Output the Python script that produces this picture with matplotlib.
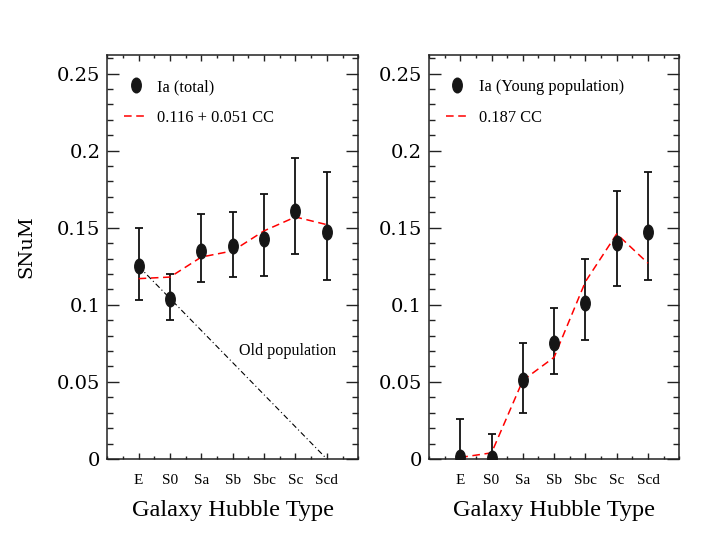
import matplotlib
matplotlib.use("Agg")
import matplotlib.pyplot as plt
from matplotlib.path import Path
from matplotlib.transforms import Affine2D
from matplotlib.lines import Line2D
from matplotlib.ticker import MultipleLocator, FuncFormatter

# --- data ---
types = ["E", "S0", "Sa", "Sb", "Sbc", "Sc", "Scd"]

# left panel: Ia (total)
total = [0.125, 0.104, 0.135, 0.138, 0.143, 0.161, 0.147]
total_err_lo = [0.022, 0.014, 0.020, 0.020, 0.024, 0.028, 0.031]
total_err_hi = [0.025, 0.016, 0.024, 0.022, 0.029, 0.034, 0.039]
total_fit = [0.117, 0.118, 0.131, 0.135, 0.148, 0.157, 0.152]
old_line_x = [0, 6]
old_line_y = [0.125, 0.0]

# right panel: Ia (young population)
young = [0.001, 0.0005, 0.051, 0.075, 0.101, 0.140, 0.147]
young_err_lo = [0.026, 0.016, 0.021, 0.020, 0.024, 0.028, 0.031]
young_err_hi = [0.025, 0.016, 0.024, 0.023, 0.029, 0.034, 0.039]
young_fit = [0.001, 0.004, 0.051, 0.066, 0.115, 0.146, 0.127]

serif_c = ["Liberation Serif", "DejaVu Serif"]
num_font = ["DejaVu Serif"]

# tall ellipse marker
ell = Path.unit_circle().transformed(Affine2D().scale(0.65, 1.0))

fig = plt.figure(figsize=(7.15, 5.40), dpi=100)
ax1 = fig.add_axes([0.150, 0.150, 0.351, 0.748])
ax2 = fig.add_axes([0.600, 0.150, 0.350, 0.748])

x = list(range(len(types)))


def style_axes(ax):
    ax.set_xlim(-1, 7)
    ax.set_ylim(0, 0.262)
    ax.xaxis.set_major_locator(MultipleLocator(1))
    ax.xaxis.set_minor_locator(MultipleLocator(0.5))
    ax.yaxis.set_major_locator(MultipleLocator(0.05))
    ax.yaxis.set_minor_locator(MultipleLocator(0.01))
    ax.set_xticks(x)
    ax.set_xticklabels(types, fontfamily=serif_c, fontsize=11)
    ax.yaxis.set_major_formatter(FuncFormatter(lambda v, p: ("%g" % round(v, 3))))
    for lab in ax.get_yticklabels():
        lab.set_fontfamily(num_font)
        lab.set_fontsize(14)
    ax.tick_params(axis="both", which="both", direction="in",
                   top=True, right=True, color="#222222", width=1.0)
    ax.tick_params(axis="y", which="major", length=8.5, pad=5, labelsize=14)
    ax.tick_params(axis="y", which="minor", length=4.3)
    ax.tick_params(axis="x", which="major", length=4.5, pad=10.5)
    ax.tick_params(axis="x", which="minor", length=2.5)
    for s in ax.spines.values():
        s.set_linewidth(1.1)
        s.set_color("#222222")
    ax.set_xlabel("Galaxy Hubble Type", fontfamily=serif_c, fontsize=17.5, labelpad=9.5)


def draw_panel(ax, vals, lo, hi, fit, label, fit_label):
    ax.errorbar(x, vals, yerr=[lo, hi], fmt="none", ecolor="#111111",
                elinewidth=1.3, capsize=2.7, capthick=1.3, zorder=2)
    ax.plot(x, fit, color="red", lw=1.1, linestyle=(0, (5, 3)), zorder=3)
    ax.plot(x, vals, linestyle="none", marker=ell, markersize=10.5,
            color="#161616", markeredgecolor="#161616", zorder=4)
    handles = [
        Line2D([], [], linestyle="none", marker=ell, markersize=10.5,
               color="#161616"),
        Line2D([], [], color="red", lw=1.1, linestyle=(0, (5, 3))),
    ]
    ax.legend(handles, [label, fit_label], loc="upper left",
              bbox_to_anchor=(0.068, 0.941), frameon=False, borderpad=0,
              borderaxespad=0, handlelength=1.4, handletextpad=0.6,
              labelspacing=0.93, prop={"family": serif_c, "size": 11.8})


draw_panel(ax1, total, total_err_lo, total_err_hi, total_fit,
           "Ia (total)", "0.116 + 0.051 CC")
ax1.plot(old_line_x, old_line_y, color="black", lw=0.8,
         linestyle=(0, (5, 2.5, 1, 2.5)), zorder=1)
ax1.text(3.2, 0.0702, "Old population", fontfamily=serif_c, fontsize=11.6,
         ha="left", va="center")

draw_panel(ax2, young, young_err_lo, young_err_hi, young_fit,
           "Ia (Young population)", "0.187 CC")

style_axes(ax1)
style_axes(ax2)

ax1.set_ylabel("SNuM", fontfamily=num_font, fontsize=14)
ax1.yaxis.set_label_coords(-0.288, 0.525)

fig.savefig("out.png", dpi=100)
